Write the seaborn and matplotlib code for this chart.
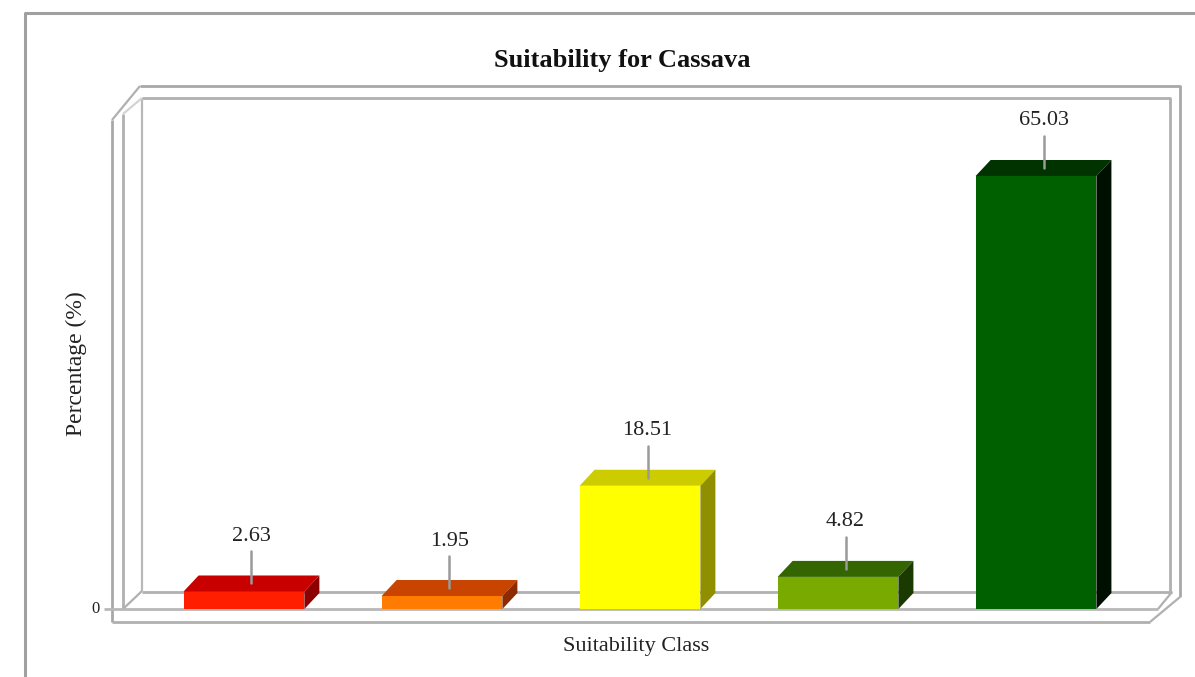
import matplotlib
matplotlib.use("Agg")
import matplotlib.pyplot as plt
import seaborn as sns
from matplotlib.patches import Polygon

# Suitability classes and the share of land (%) in each
classes = ["Not suitable", "Marginally suitable", "Moderately suitable",
           "Suitable", "Highly suitable"]
percent = [2.63, 1.95, 18.51, 4.82, 65.03]

front_colors = ["#ff1e00", "#ff7c00", "#ffff00", "#78aa00", "#006000"]
top_colors = ["#c80000", "#c84400", "#cccc00", "#336600", "#003300"]
side_colors = ["#8c0000", "#8c2a00", "#8f8f00", "#1a3a00", "#001000"]

title = "Suitability for Cassava"
y_label = "Percentage (%)"
x_label = "Suitability Class"

W, H = 1195, 677
SERIF = ["Liberation Serif", "DejaVu Serif"]
GRID = "#a8a8a8"
PALE = "#d4d4d4"

sns.set_theme(style="white")
plt.rcParams["font.family"] = SERIF

fig = plt.figure(figsize=(W / 100, H / 100), dpi=100)
fig.patch.set_facecolor("white")

# Background layer in pixel units for the frame and the 3-D box
bg = fig.add_axes([0, 0, 1, 1], zorder=0)
bg.set_xlim(0, W)
bg.set_ylim(H, 0)
bg.axis("off")


def seg(xs, ys, color=GRID, lw=2.0):
    bg.plot(xs, ys, color=color, lw=lw, solid_capstyle="butt")


# outer frame
seg([25, 25, W], [H, 13, 13], color="#a0a0a0", lw=2.2)

# back wall (double edge)
seg([140, 1180, 1180], [86, 86, 597])
seg([142, 1170, 1170], [98, 98, 591], color="#b0b0b0")
seg([142, 142], [98, 591], color="#b8b8b8", lw=1.6)
# left wall
seg([112, 112], [120, 622])
seg([123, 123], [114, 609], color="#b0b0b0")
seg([112, 140], [120, 86], color="#b0b0b0", lw=1.6)
seg([123, 142], [114, 98], color=PALE, lw=1.6)
seg([123, 142], [609, 591], color="#b0b0b0", lw=1.6)
# floor
seg([142, 1172], [592, 592], color="#b0b0b0")
seg([104, 1158], [609, 609], color="#b8b8b8")
seg([112, 1150], [622, 622], color="#b0b0b0")
seg([1158, 1172], [609, 592], color="#b0b0b0", lw=1.6)
seg([1150, 1180], [622, 597], color="#b0b0b0", lw=1.6)

# zero tick label
bg.text(96, 609, "0", ha="center", va="center", fontsize=12,
        color="#222222", family=SERIF)

# titles
bg.text(622, 60, title, ha="center", va="center", fontsize=19,
        fontweight="bold", color="#111111", family=SERIF)
bg.text(76, 364, y_label, ha="center", va="center", rotation=90,
        fontsize=17, color="#222222", family=SERIF)
bg.text(636, 646, x_label, ha="center", va="center", fontsize=16,
        color="#222222", family=SERIF)

# Bar axes: front plane of the box
left, right, top, base = 123, 1158, 112, 609
ax = fig.add_axes([left / W, (H - base) / H, (right - left) / W, (base - top) / H],
                  zorder=1)
ax.patch.set_alpha(0)

sns.barplot(x=classes, y=percent, hue=classes, palette=front_colors,
            order=classes, hue_order=classes, width=0.61, saturation=1,
            legend=False, ax=ax, zorder=3)
ax.set_xlim(-0.611, 4.616)
ax.set_ylim(0, 74.64)
ax.axis("off")

to_disp = ax.transData.transform
to_data = ax.transData.inverted().transform

# depth of the extruded bars (display pixels)
DX, DY = 15, 16

bars = sorted(ax.patches, key=lambda p: p.get_x())
for bar, value, tc, sc in zip(bars, percent, top_colors, side_colors):
    bar.set_edgecolor("none")
    x0 = bar.get_x()
    x1 = x0 + bar.get_width()
    (X0, Y0), (X1, Yh) = to_disp([(x0, 0), (x1, value)])
    top_face = [(X0, Yh), (X1, Yh), (X1 + DX, Yh + DY), (X0 + DX, Yh + DY)]
    side_face = [(X1, Y0), (X1, Yh), (X1 + DX, Yh + DY), (X1 + DX, Y0 + DY)]
    ax.add_patch(Polygon(to_data(top_face), closed=True, facecolor=tc,
                         edgecolor="none", clip_on=False, zorder=3))
    ax.add_patch(Polygon(to_data(side_face), closed=True, facecolor=sc,
                         edgecolor="none", clip_on=False, zorder=3))

    Xc = (X0 + X1) / 2 + DX / 2
    (lx, ly0), (_, ly1), (_, ty) = to_data([(Xc, Yh + DY / 2), (Xc, Yh + 40),
                                            (Xc, Yh + 55)])
    ax.plot([lx, lx], [ly0, ly1], color="#9a9a9a", lw=1.8, clip_on=False,
            zorder=4)
    ax.text(lx, ty, f"{value:.2f}", ha="center", va="center", fontsize=16,
            color="#222222", family=SERIF, clip_on=False)

fig.savefig("out.png", dpi=100, facecolor="white")
